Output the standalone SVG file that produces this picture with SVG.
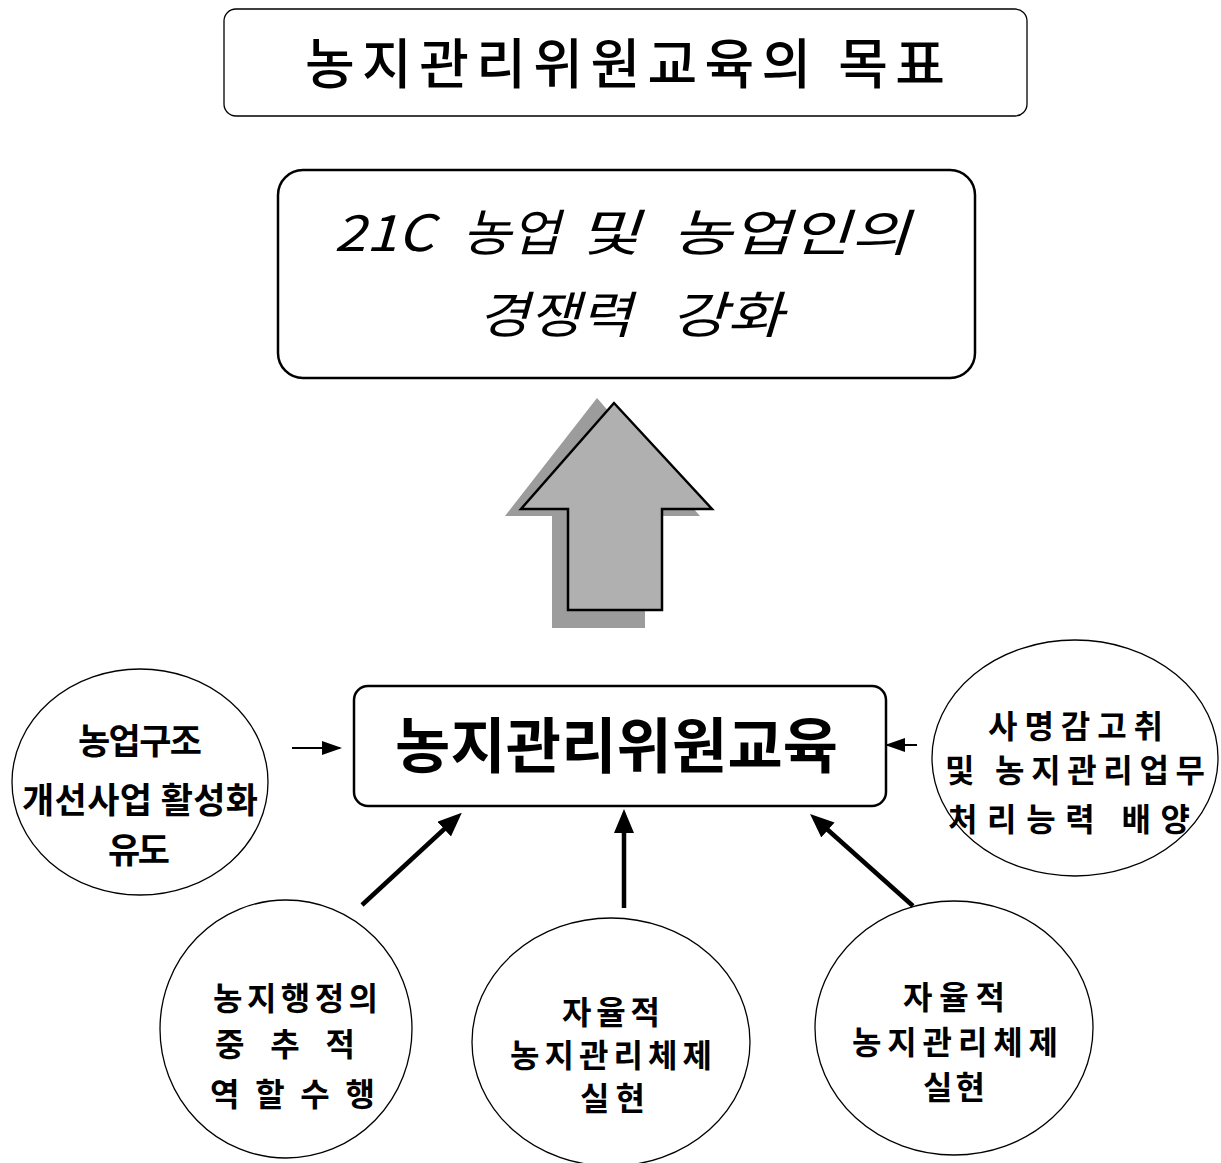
<svg xmlns="http://www.w3.org/2000/svg" width="1221" height="1163" viewBox="0 0 1221 1163">
<style>
text{font-family:"Noto Sans CJK KR","Noto Sans CJK SC",sans-serif;fill:#000}
.box{fill:#fff;stroke:#000}
.circ{fill:#fff;stroke:#000;stroke-width:1.3}
.ct{font-size:35px;font-weight:700}
.cs{font-size:32px;font-weight:700}
.it{font-size:50px;font-style:italic}
.thick{stroke:#000;stroke-width:4.5;fill:none}
.thin{stroke:#000;stroke-width:2;fill:none}
</style>
<defs>
<marker id="ah" markerUnits="userSpaceOnUse" markerWidth="24" markerHeight="20" viewBox="0 0 24 20" refX="12" refY="10" orient="auto">
<path d="M0,0 L24,10 L0,20 z" fill="#000"/>
</marker>
<marker id="ahs" markerUnits="userSpaceOnUse" markerWidth="20" markerHeight="14" viewBox="0 0 20 14" refX="18" refY="7" orient="auto">
<path d="M0,0 L20,7 L0,14 z" fill="#000"/>
</marker>
</defs>

<g id="title">
<rect class="box" x="224" y="9" width="803" height="107" rx="12" stroke-width="1.3"/>
<text x="305" y="84" font-size="54" font-weight="500" textLength="640" lengthAdjust="spacing">농지관리위원교육의 목표</text>
</g>

<g id="goal">
<rect class="box" x="278" y="170" width="697" height="208" rx="25" stroke-width="2.5"/>
<text class="it" x="334" y="251" textLength="100" lengthAdjust="spacingAndGlyphs">21C</text>
<text class="it" x="462" y="251" textLength="98" lengthAdjust="spacingAndGlyphs">농업</text>
<text class="it" x="578" y="251" textLength="62" lengthAdjust="spacingAndGlyphs">및</text>
<text class="it" x="672" y="251" textLength="238" lengthAdjust="spacingAndGlyphs">농업인의</text>
<text class="it" x="478" y="333" textLength="154" lengthAdjust="spacingAndGlyphs">경쟁력</text>
<text class="it" x="671" y="333" textLength="112" lengthAdjust="spacingAndGlyphs">강화</text>
</g>

<g id="bigarrow">
<polygon points="597,398 505,516 552,516 552,628 645,628 645,516 700,516" fill="#9c9c9c"/>
<polygon points="614,403 521,509 568,509 568,610 662,610 662,509 712,509" fill="#b0b0b0" stroke="#000" stroke-width="2.5" stroke-linejoin="miter"/>
</g>

<g id="center">
<rect class="box" x="354" y="686" width="532" height="120" rx="14" stroke-width="2.5"/>
<text x="395" y="768" font-size="60" font-weight="700" textLength="443" lengthAdjust="spacing">농지관리위원교육</text>
</g>

<g id="c-left">
<ellipse class="circ" cx="140" cy="782" rx="128" ry="113"/>
<text class="ct" x="78" y="754" textLength="124" lengthAdjust="spacing">농업구조</text>
<text class="ct" x="22" y="813" textLength="236" lengthAdjust="spacing">개선사업 활성화</text>
<text class="ct" x="108" y="863" textLength="62" lengthAdjust="spacing">유도</text>
</g>

<g id="c-right">
<ellipse class="circ" cx="1075" cy="758" rx="143" ry="118"/>
<text class="cs" x="988" y="738" textLength="175" lengthAdjust="spacing">사명감고취</text>
<text class="cs" x="945" y="782" textLength="260" lengthAdjust="spacing">및 농지관리업무</text>
<text class="cs" x="948" y="831" textLength="242" lengthAdjust="spacing">처리능력 배양</text>
</g>

<g id="c-bl">
<ellipse class="circ" cx="286" cy="1029" rx="126" ry="129"/>
<text class="cs" x="213" y="1010" textLength="165" lengthAdjust="spacing">농지행정의</text>
<text class="cs" x="215" y="1056" textLength="140" lengthAdjust="spacing">중추적</text>
<text class="cs" x="210" y="1106" textLength="165" lengthAdjust="spacing">역할수행</text>
</g>

<g id="c-bm">
<ellipse class="circ" cx="611" cy="1042" rx="139" ry="124"/>
<text class="cs" x="562" y="1024" textLength="98" lengthAdjust="spacing">자율적</text>
<text class="cs" x="510" y="1067" textLength="202" lengthAdjust="spacing">농지관리체제</text>
<text class="cs" x="580" y="1110" textLength="65" lengthAdjust="spacing">실현</text>
</g>

<g id="c-br">
<ellipse class="circ" cx="954" cy="1028" rx="139" ry="127"/>
<text class="cs" x="903" y="1009" textLength="102" lengthAdjust="spacing">자율적</text>
<text class="cs" x="852" y="1054" textLength="206" lengthAdjust="spacing">농지관리체제</text>
<text class="cs" x="923" y="1099" textLength="62" lengthAdjust="spacing">실현</text>
</g>

<g id="connectors">
<line class="thin" x1="292" y1="748" x2="340" y2="748" marker-end="url(#ahs)"/>
<line class="thin" x1="917" y1="745" x2="887" y2="745" marker-end="url(#ahs)"/>
<line class="thick" x1="362" y1="905" x2="453" y2="821" marker-end="url(#ah)"/>
<line class="thick" x1="624" y1="908" x2="624" y2="821" marker-end="url(#ah)"/>
<line class="thick" x1="913" y1="906" x2="819" y2="822" marker-end="url(#ah)"/>
</g>
</svg>
